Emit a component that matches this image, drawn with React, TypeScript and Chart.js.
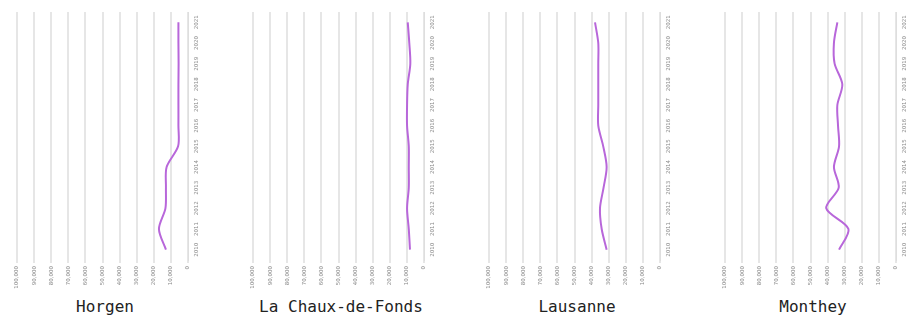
import { useEffect, useRef } from "react";
import { Chart, registerables } from "chart.js";

Chart.register(...registerables);

// Time axis (drawn on the right, oldest at the bottom)
const years = ["2010", "2011", "2012", "2013", "2014", "2015", "2016", "2017", "2018", "2019", "2020", "2021"];

// Panel titles
const cities = ["Horgen", "La Chaux-de-Fonds", "Lausanne", "Monthey"];

// Series values, one per city, in chronological order
const horgenValues = [12900, 17000, 13200, 12900, 12500, 5800, 5600, 5600, 5600, 5500, 5600, 5600];
const chauxDeFondsValues = [8200, 8900, 9900, 8900, 8900, 8900, 9900, 9900, 9500, 8000, 8600, 9500];
const lausanneValues = [31200, 34100, 35100, 33000, 31200, 33200, 36100, 36100, 36100, 36100, 36100, 38000];
const montheyValues = [33300, 27800, 40800, 33500, 36300, 33300, 33900, 34300, 31400, 35900, 36300, 34300];

// Value axis tick labels (drawn at the bottom, zero on the right)
const xTickValues = [0, 10000, 20000, 30000, 40000, 50000, 60000, 70000, 80000, 90000, 100000];
const xTickLabels = ["0", "10,000", "20,000", "30,000", "40,000", "50,000", "60,000", "70,000", "80,000", "90,000", "100,000"];

const seriesList = [horgenValues, chauxDeFondsValues, lausanneValues, montheyValues];

const PANEL_STEP = 236;
const CANVAS_W = 187;
const CANVAS_H = 296;

function Panel({ values, index }: { values: number[]; index: number }) {
  const ref = useRef<HTMLCanvasElement | null>(null);
  useEffect(() => {
    if (!ref.current) return;
    const chart = new Chart(ref.current, {
      type: "line",
      data: {
        labels: years,
        datasets: [
          {
            data: values,
            borderColor: "#b867da",
            borderWidth: 2,
            pointRadius: 0,
            tension: 0.3,
            fill: false,
          },
        ],
      },
      options: {
        indexAxis: "y",
        responsive: false,
        animation: false,
        layout: { padding: { left: 4, right: 0, top: 12, bottom: 0 } },
        plugins: {
          legend: { display: false },
          tooltip: { enabled: false },
          title: { display: false },
        },
        scales: {
          x: {
            type: "linear",
            position: "bottom",
            reverse: true,
            min: xTickValues[0],
            max: xTickValues[xTickValues.length - 1],
            ticks: {
              stepSize: xTickValues[1] - xTickValues[0],
              autoSkip: false,
              minRotation: 90,
              maxRotation: 90,
              padding: 3,
              color: "#8a8a8a",
              font: { size: 5.5, family: "DejaVu Sans" },
              callback: (v: any) => {
                const k = xTickValues.indexOf(Number(v));
                return k >= 0 ? xTickLabels[k] : "";
              },
            },
            grid: { color: "#e6e6e6", lineWidth: 2, tickLength: 3 },
            border: { display: false },
            afterFit: (s: any) => {
              s.height = 36;
            },
          },
          y: {
            type: "category",
            position: "right",
            reverse: true,
            offset: true,
            ticks: {
              autoSkip: false,
              minRotation: 90,
              maxRotation: 90,
              padding: 2,
              crossAlign: "center",
              color: "#8a8a8a",
              font: { size: 5.5, family: "DejaVu Sans" },
            },
            grid: { display: false, drawTicks: false },
            border: { display: true, color: "#dedede", width: 1 },
            afterFit: (s: any) => {
              s.width = 12;
            },
          },
        },
      } as any,
    });
    return () => chart.destroy();
  }, [values]);
  return (
    <canvas
      ref={ref}
      width={CANVAS_W}
      height={CANVAS_H}
      style={{
        position: "absolute",
        left: 13 + index * PANEL_STEP,
        top: 0,
        width: CANVAS_W,
        height: CANVAS_H,
        display: "block",
      }}
    />
  );
}

export default function App() {
  return (
    <div
      style={{
        position: "absolute",
        left: 0,
        top: 0,
        width: 909,
        height: 319,
        overflow: "hidden",
        background: "#ffffff",
      }}
    >
      {seriesList.map((vals, i) => (
        <Panel key={i} values={vals} index={i} />
      ))}
      {cities.map((c, i) => (
        <div
          key={c}
          style={{
            position: "absolute",
            left: 105 + i * PANEL_STEP - 118,
            top: 298,
            width: 236,
            textAlign: "center",
            fontFamily: "'DejaVu Sans Mono', monospace",
            fontSize: 16,
            lineHeight: "18px",
            color: "#222222",
            whiteSpace: "nowrap",
          }}
        >
          {c}
        </div>
      ))}
    </div>
  );
}
